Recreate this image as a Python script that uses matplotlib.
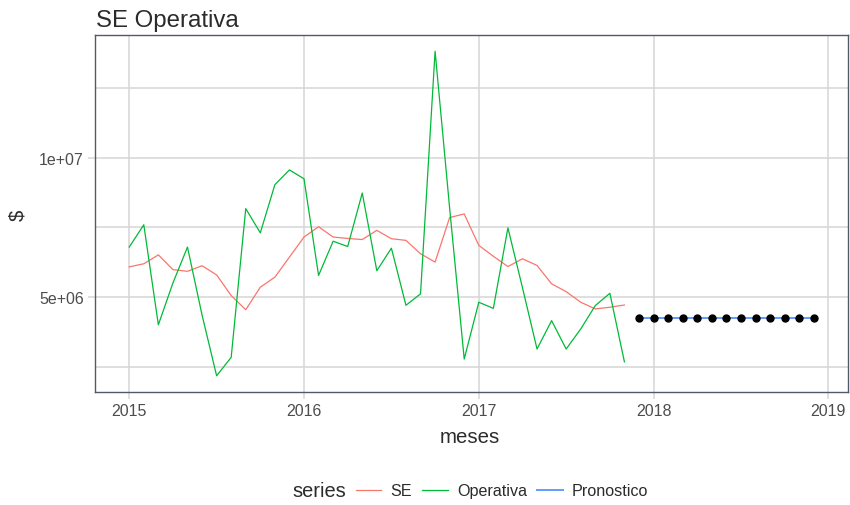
import numpy as np
import matplotlib
matplotlib.use("Agg")
import matplotlib.pyplot as plt
from matplotlib.ticker import FixedLocator, FuncFormatter

plt.rcParams['font.family'] = ['Liberation Sans', 'DejaVu Sans']

# monthly data, Jan 2015 - Nov 2017
se = [6.08e6, 6.19e6, 6.51e6, 5.98e6, 5.92e6, 6.12e6, 5.79e6, 5.05e6, 4.54e6, 5.35e6,
      5.71e6, 6.43e6, 7.15e6, 7.52e6, 7.15e6, 7.10e6, 7.06e6, 7.39e6, 7.09e6, 7.03e6,
      6.55e6, 6.25e6, 7.85e6, 7.98e6, 6.85e6, 6.46e6, 6.09e6, 6.37e6, 6.13e6, 5.47e6,
      5.19e6, 4.81e6, 4.57e6, 4.63e6, 4.71e6]
operativa = [6.79e6, 7.59e6, 4.00e6, 5.50e6, 6.79e6, 4.35e6, 2.17e6, 2.83e6, 8.17e6, 7.30e6,
             9.03e6, 9.56e6, 9.24e6, 5.77e6, 7.00e6, 6.81e6, 8.73e6, 5.94e6, 6.75e6, 4.70e6,
             5.11e6, 1.382e7, 8.18e6, 2.77e6, 4.81e6, 4.59e6, 7.48e6, 5.33e6, 3.13e6, 4.15e6,
             3.13e6, 3.85e6, 4.69e6, 5.13e6, 2.67e6]
# forecast Dec 2017 - Dec 2018
pronostico = [4.245e6] * 13

start_year = 2015
x_hist = start_year + np.arange(len(se)) / 12
x_fc = start_year + (len(se) + np.arange(len(pronostico))) / 12

red, green, blue = '#F8766D', '#00BA38', '#619CFF'
grid_col = '#D6D6D6'
border_col = '#4F5B6B'
text_col = '#4D4D4D'

fig = plt.figure(figsize=(8.5, 5.06), dpi=100)
ax = fig.add_axes([95 / 850, 1 - 393 / 506, 753 / 850, 357 / 506])

ax.plot(x_hist, se, color=red, lw=0.9, label='SE')
ax.plot(x_hist, operativa, color=green, lw=0.9, label='Operativa')
ax.plot(x_fc, pronostico, color=blue, lw=1.4, label='Pronostico')
ax.plot(x_fc, pronostico, 'o', color='black', ms=5, zorder=5)

# ggplot-like 5% expansion
allx = np.concatenate([x_hist, x_fc])
ally = np.concatenate([se, operativa, pronostico])
dx = (allx.max() - allx.min()) * 0.05
dy = (ally.max() - ally.min()) * 0.05
ax.set_xlim(allx.min() - dx, allx.max() + dx)
ax.set_ylim(ally.min() - dy, ally.max() + dy)

ax.xaxis.set_major_locator(FixedLocator([2015, 2016, 2017, 2018, 2019]))
ax.xaxis.set_major_formatter(FuncFormatter(lambda v, p: f"{int(round(v))}"))
ax.yaxis.set_major_locator(FixedLocator([5e6, 1e7]))
ax.yaxis.set_minor_locator(FixedLocator([2.5e6, 7.5e6, 1.25e7]))
ax.yaxis.set_major_formatter(FuncFormatter(lambda v, p: {5e6: '5e+06', 1e7: '1e+07'}.get(v, '')))

ax.grid(True, which='major', color=grid_col, lw=1.1)
ax.grid(True, which='minor', axis='y', color=grid_col, lw=1.1)
ax.set_axisbelow(True)
ax.tick_params(which='major', length=5, width=1.1, color=grid_col,
               labelsize=11.5, labelcolor=text_col, pad=3)
ax.tick_params(which='minor', length=0)
for s in ax.spines.values():
    s.set_color(border_col)
    s.set_linewidth(1.0)

fig.text(96 / 850, 1 - 27 / 506, 'SE Operativa', fontsize=17.3, color='#2B2B2B',
         ha='left', va='baseline')
fig.text(470 / 850, 1 - 438 / 506, 'meses', fontsize=14.7, color='#2B2B2B',
         ha='center', va='center')
fig.text(18 / 850, 1 - 215 / 506, r'\$', fontsize=14.7, color='#2B2B2B',
         rotation=90, ha='center', va='center')

fig.text(292 / 850, 1 - 492 / 506, 'series', fontsize=14.4, color='#2B2B2B',
         ha='left', va='center')
handles = ax.get_lines()[:3]
fig.legend(handles, ['SE', 'Operativa', 'Pronostico'], loc='center',
           bbox_to_anchor=((356 + 648) / 2 / 850, 1 - 492 / 506), ncol=3,
           frameon=False, fontsize=11.6, handlelength=1.6, handletextpad=0.55,
           columnspacing=0.65, borderpad=0, borderaxespad=0, labelcolor='#2B2B2B')

fig.savefig('out.png', dpi=100)
